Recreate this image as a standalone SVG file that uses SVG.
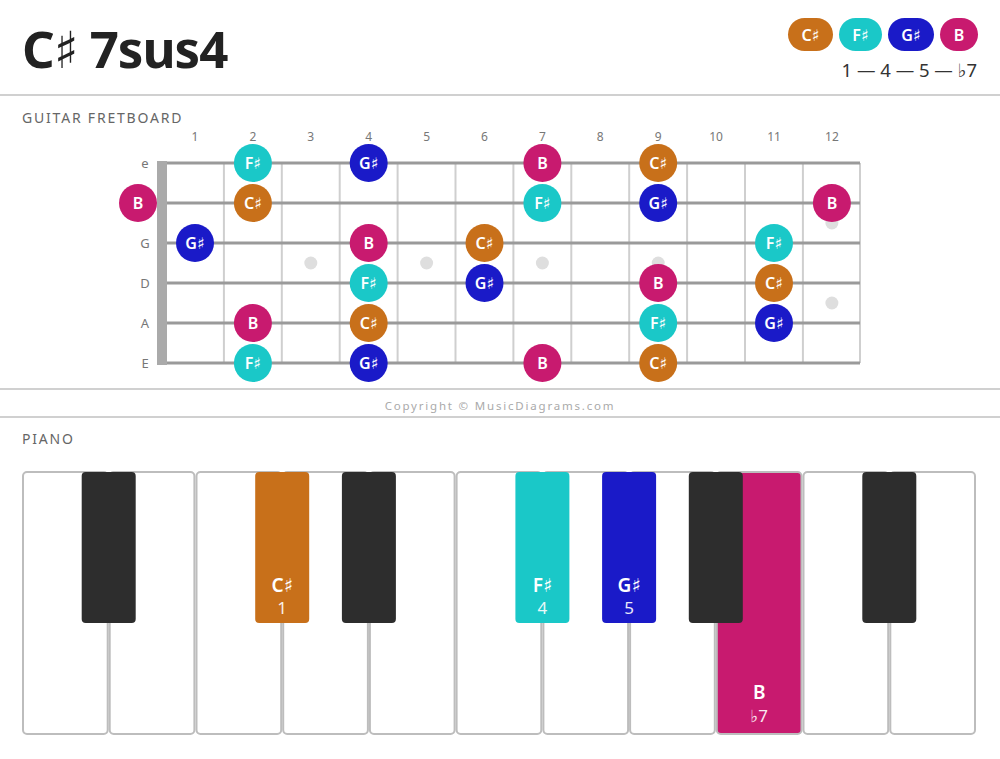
<svg xmlns="http://www.w3.org/2000/svg" width="1000" height="759" viewBox="0 0 1000 759">
<style>
text{font-family:"Noto Sans","Open Sans","DejaVu Sans",sans-serif}
.sep{stroke:#d0d0d0;stroke-width:2}
.sec{font-size:14px;fill:#666;letter-spacing:1.8px}
.fn{font-size:12px;fill:#777;text-anchor:middle}
.sl{font-size:13px;fill:#777;text-anchor:middle}
.str{stroke:#9a9a9a;stroke-width:3}
.fret{stroke:#cfcfcf;stroke-width:2}
.inlay{fill:#dedede}
.nt{font-size:16px;font-weight:600;fill:#fff;text-anchor:middle}
.cs{fill:#c8701a}.fs{fill:#1ac8c8}.gs{fill:#1a1ac8}.b{fill:#c81a6f}
.wk{fill:#fff;stroke:#bdbdbd;stroke-width:2}
.bk{fill:#2d2d2d}
.kn{font-size:19px;font-weight:600;fill:#fff;text-anchor:middle}
.kd{font-size:17px;fill:#fff;text-anchor:middle;opacity:0.9}
</style>
<rect width="1000" height="759" fill="#fff"/>
<g id="title">
<text x="22" y="68" font-size="51" font-weight="bold" fill="#222" letter-spacing="-1">C<tspan font-weight="normal">♯</tspan> 7sus4</text>
</g>
<g id="legend">
<rect x="788" y="18" width="45" height="33" rx="16.5" class="cs"/>
<text x="810.5" y="40.5" class="nt">C♯</text>
<rect x="839" y="18" width="43" height="33" rx="16.5" class="fs"/>
<text x="860.5" y="40.5" class="nt">F♯</text>
<rect x="888" y="18" width="46" height="33" rx="16.5" class="gs"/>
<text x="911" y="40.5" class="nt">G♯</text>
<rect x="940" y="18" width="38" height="33" rx="16.5" class="b"/>
<text x="959" y="40.5" class="nt">B</text>
<text x="977" y="77" font-size="18.5" fill="#333" text-anchor="end">1 — 4 — 5 — ♭7</text>
</g>
<line x1="0" y1="95" x2="1000" y2="95" class="sep"/>
<text x="22" y="123" class="sec">GUITAR FRETBOARD</text>
<g id="fretboard">
<g id="fret-numbers">
<text x="195" y="141" class="fn">1</text>
<text x="252.9" y="141" class="fn">2</text>
<text x="310.8" y="141" class="fn">3</text>
<text x="368.7" y="141" class="fn">4</text>
<text x="426.6" y="141" class="fn">5</text>
<text x="484.5" y="141" class="fn">6</text>
<text x="542.4" y="141" class="fn">7</text>
<text x="600.3" y="141" class="fn">8</text>
<text x="658.2" y="141" class="fn">9</text>
<text x="716.1" y="141" class="fn">10</text>
<text x="774" y="141" class="fn">11</text>
<text x="831.9" y="141" class="fn">12</text>
</g>
<g id="string-labels">
<text x="145" y="168" class="sl">e</text>
<text x="145" y="248" class="sl">G</text>
<text x="145" y="288" class="sl">D</text>
<text x="145" y="328" class="sl">A</text>
<text x="145" y="368" class="sl">E</text>
</g>
<g id="frets">
<line x1="223.9" y1="163" x2="223.9" y2="363" class="fret"/>
<line x1="281.8" y1="163" x2="281.8" y2="363" class="fret"/>
<line x1="339.7" y1="163" x2="339.7" y2="363" class="fret"/>
<line x1="397.6" y1="163" x2="397.6" y2="363" class="fret"/>
<line x1="455.5" y1="163" x2="455.5" y2="363" class="fret"/>
<line x1="513.4" y1="163" x2="513.4" y2="363" class="fret"/>
<line x1="571.3" y1="163" x2="571.3" y2="363" class="fret"/>
<line x1="629.2" y1="163" x2="629.2" y2="363" class="fret"/>
<line x1="687.1" y1="163" x2="687.1" y2="363" class="fret"/>
<line x1="745" y1="163" x2="745" y2="363" class="fret"/>
<line x1="802.9" y1="163" x2="802.9" y2="363" class="fret"/>
<line x1="860" y1="163" x2="860" y2="363" class="fret"/>
</g>
<g id="inlays">
<circle cx="310.8" cy="263" r="6.5" class="inlay"/>
<circle cx="426.6" cy="263" r="6.5" class="inlay"/>
<circle cx="542.4" cy="263" r="6.5" class="inlay"/>
<circle cx="658.2" cy="263" r="6.5" class="inlay"/>
<circle cx="831.9" cy="223" r="6.5" class="inlay"/>
<circle cx="831.9" cy="303" r="6.5" class="inlay"/>
</g>
<g id="strings">
<line x1="160" y1="163" x2="860" y2="163" class="str"/>
<line x1="160" y1="203" x2="860" y2="203" class="str"/>
<line x1="160" y1="243" x2="860" y2="243" class="str"/>
<line x1="160" y1="283" x2="860" y2="283" class="str"/>
<line x1="160" y1="323" x2="860" y2="323" class="str"/>
<line x1="157" y1="363" x2="860" y2="363" class="str" stroke-width="4"/>
</g>
<rect id="nut" x="157" y="161" width="10" height="204" fill="#aaa"/>
<g id="notes">
<g id="n-e2"><circle cx="252.9" cy="163" r="19" class="fs"/><text x="252.9" y="168.5" class="nt">F♯</text></g>
<g id="n-e4"><circle cx="368.7" cy="163" r="19" class="gs"/><text x="368.7" y="168.5" class="nt">G♯</text></g>
<g id="n-e7"><circle cx="542.4" cy="163" r="19" class="b"/><text x="542.4" y="168.5" class="nt">B</text></g>
<g id="n-e9"><circle cx="658.2" cy="163" r="19" class="cs"/><text x="658.2" y="168.5" class="nt">C♯</text></g>
<g id="n-B0"><circle cx="138" cy="203" r="19" class="b"/><text x="138" y="208.5" class="nt">B</text></g>
<g id="n-B2"><circle cx="252.9" cy="203" r="19" class="cs"/><text x="252.9" y="208.5" class="nt">C♯</text></g>
<g id="n-B7"><circle cx="542.4" cy="203" r="19" class="fs"/><text x="542.4" y="208.5" class="nt">F♯</text></g>
<g id="n-B9"><circle cx="658.2" cy="203" r="19" class="gs"/><text x="658.2" y="208.5" class="nt">G♯</text></g>
<g id="n-B12"><circle cx="831.9" cy="203" r="19" class="b"/><text x="831.9" y="208.5" class="nt">B</text></g>
<g id="n-G1"><circle cx="195" cy="243" r="19" class="gs"/><text x="195" y="248.5" class="nt">G♯</text></g>
<g id="n-G4"><circle cx="368.7" cy="243" r="19" class="b"/><text x="368.7" y="248.5" class="nt">B</text></g>
<g id="n-G6"><circle cx="484.5" cy="243" r="19" class="cs"/><text x="484.5" y="248.5" class="nt">C♯</text></g>
<g id="n-G11"><circle cx="774" cy="243" r="19" class="fs"/><text x="774" y="248.5" class="nt">F♯</text></g>
<g id="n-D4"><circle cx="368.7" cy="283" r="19" class="fs"/><text x="368.7" y="288.5" class="nt">F♯</text></g>
<g id="n-D6"><circle cx="484.5" cy="283" r="19" class="gs"/><text x="484.5" y="288.5" class="nt">G♯</text></g>
<g id="n-D9"><circle cx="658.2" cy="283" r="19" class="b"/><text x="658.2" y="288.5" class="nt">B</text></g>
<g id="n-D11"><circle cx="774" cy="283" r="19" class="cs"/><text x="774" y="288.5" class="nt">C♯</text></g>
<g id="n-A2"><circle cx="252.9" cy="323" r="19" class="b"/><text x="252.9" y="328.5" class="nt">B</text></g>
<g id="n-A4"><circle cx="368.7" cy="323" r="19" class="cs"/><text x="368.7" y="328.5" class="nt">C♯</text></g>
<g id="n-A9"><circle cx="658.2" cy="323" r="19" class="fs"/><text x="658.2" y="328.5" class="nt">F♯</text></g>
<g id="n-A11"><circle cx="774" cy="323" r="19" class="gs"/><text x="774" y="328.5" class="nt">G♯</text></g>
<g id="n-E2"><circle cx="252.9" cy="363" r="19" class="fs"/><text x="252.9" y="368.5" class="nt">F♯</text></g>
<g id="n-E4"><circle cx="368.7" cy="363" r="19" class="gs"/><text x="368.7" y="368.5" class="nt">G♯</text></g>
<g id="n-E7"><circle cx="542.4" cy="363" r="19" class="b"/><text x="542.4" y="368.5" class="nt">B</text></g>
<g id="n-E9"><circle cx="658.2" cy="363" r="19" class="cs"/><text x="658.2" y="368.5" class="nt">C♯</text></g>
</g>
</g>
<line x1="0" y1="389" x2="1000" y2="389" class="sep"/>
<text x="500" y="410" font-size="11.5" fill="#aaa" text-anchor="middle" letter-spacing="1.8">Copyright © MusicDiagrams.com</text>
<line x1="0" y1="417" x2="1000" y2="417" class="sep"/>
<text x="22" y="444" class="sec">PIANO</text>
<g id="piano">
<g id="white-keys">
<rect x="23" y="472" width="84.7" height="262" rx="4" class="wk"/>
<rect x="109.7" y="472" width="84.7" height="262" rx="4" class="wk"/>
<rect x="196.5" y="472" width="84.7" height="262" rx="4" class="wk"/>
<rect x="283.2" y="472" width="84.7" height="262" rx="4" class="wk"/>
<rect x="369.9" y="472" width="84.7" height="262" rx="4" class="wk"/>
<rect x="456.6" y="472" width="84.7" height="262" rx="4" class="wk"/>
<rect x="543.4" y="472" width="84.7" height="262" rx="4" class="wk"/>
<rect x="630.1" y="472" width="84.7" height="262" rx="4" class="wk"/>
<g id="key-B"><rect x="716.8" y="472" width="84.7" height="262" rx="4" class="wk" style="fill:#c81a6f"/>
<text x="759.2" y="699" class="kn">B</text><text x="759.2" y="722" class="kd">♭7</text></g>
<rect x="803.5" y="472" width="84.7" height="262" rx="4" class="wk"/>
<rect x="890.3" y="472" width="84.7" height="262" rx="4" class="wk"/>
</g>
<g id="black-keys">
<rect x="81.7" y="472" width="54" height="151" rx="4" class="bk"/>
<g id="key-Cs"><rect x="255.2" y="472" width="54" height="151" rx="4" class="cs"/>
<text x="282.2" y="592" class="kn">C♯</text><text x="282.2" y="614" class="kd">1</text></g>
<rect x="341.9" y="472" width="54" height="151" rx="4" class="bk"/>
<g id="key-Fs"><rect x="515.4" y="472" width="54" height="151" rx="4" class="fs"/>
<text x="542.4" y="592" class="kn">F♯</text><text x="542.4" y="614" class="kd">4</text></g>
<g id="key-Gs"><rect x="602.1" y="472" width="54" height="151" rx="4" class="gs"/>
<text x="629.1" y="592" class="kn">G♯</text><text x="629.1" y="614" class="kd">5</text></g>
<rect x="688.8" y="472" width="54" height="151" rx="4" class="bk"/>
<rect x="862.3" y="472" width="54" height="151" rx="4" class="bk"/>
</g>
</g>
</svg>
